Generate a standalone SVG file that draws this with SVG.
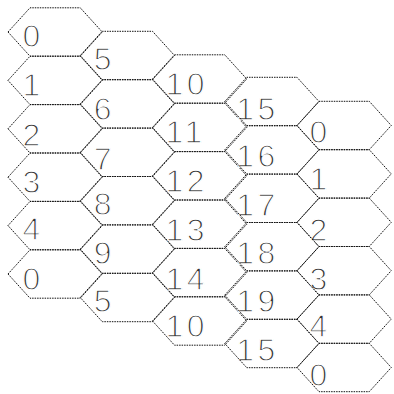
<svg xmlns="http://www.w3.org/2000/svg" xmlns:xlink="http://www.w3.org/1999/xlink" width="394" height="394" viewBox="0 0 394 394">
<style>
.hex{fill:none;stroke:#111;stroke-width:1;stroke-dasharray:1.5 1}
.lbl{font-family:"Liberation Sans",Arial,sans-serif;font-size:32px;fill:#333;stroke:#fff;stroke-width:1.3px;letter-spacing:3.5px}
</style>
<defs>
<polygon id="hx" class="hex" points="0,0 22,-24.2 72.25,-24.2 94.25,0 72.25,24.2 22,24.2"/>
</defs>
<rect width="394" height="394" fill="#fff"/>
<g id="c0r0"><text class="lbl" x="22.5" y="47">0</text><use xlink:href="#hx" x="8" y="32"/></g>
<g id="c0r1"><text class="lbl" x="22.5" y="96">1</text><use xlink:href="#hx" x="8" y="80.4"/></g>
<g id="c0r2"><text class="lbl" x="22.5" y="146">2</text><use xlink:href="#hx" x="8" y="128.8"/></g>
<g id="c0r3"><text class="lbl" x="22.5" y="193">3</text><use xlink:href="#hx" x="8" y="177.2"/></g>
<g id="c0r4"><text class="lbl" x="22.5" y="240">4</text><use xlink:href="#hx" x="8" y="225.6"/></g>
<g id="c0r5"><text class="lbl" x="22.5" y="290">0</text><use xlink:href="#hx" x="8" y="274"/></g>
<g id="c1r0"><text class="lbl" x="93.7" y="70">5</text><use xlink:href="#hx" x="80.25" y="55.5"/></g>
<g id="c1r1"><text class="lbl" x="93.7" y="120">6</text><use xlink:href="#hx" x="80.25" y="103.9"/></g>
<g id="c1r2"><text class="lbl" x="93.7" y="170">7</text><use xlink:href="#hx" x="80.25" y="152.3"/></g>
<g id="c1r3"><text class="lbl" x="93.7" y="215">8</text><use xlink:href="#hx" x="80.25" y="200.7"/></g>
<g id="c1r4"><text class="lbl" x="93.7" y="264">9</text><use xlink:href="#hx" x="80.25" y="249.1"/></g>
<g id="c1r5"><text class="lbl" x="93.7" y="312">5</text><use xlink:href="#hx" x="80.25" y="297.5"/></g>
<g id="c2r0"><text class="lbl" x="165.5" y="95">10</text><use xlink:href="#hx" x="152.5" y="79"/></g>
<g id="c2r1"><text class="lbl" x="165.5" y="143.4">11</text><use xlink:href="#hx" x="152.5" y="127.4"/></g>
<g id="c2r2"><text class="lbl" x="165.5" y="192">12</text><use xlink:href="#hx" x="152.5" y="175.8"/></g>
<g id="c2r3"><text class="lbl" x="165.5" y="241">13</text><use xlink:href="#hx" x="152.5" y="224.2"/></g>
<g id="c2r4"><text class="lbl" x="165.5" y="290">14</text><use xlink:href="#hx" x="152.5" y="272.6"/></g>
<g id="c2r5"><text class="lbl" x="165.5" y="337">10</text><use xlink:href="#hx" x="152.5" y="321"/></g>
<g id="c3r0"><text class="lbl" x="236.2" y="120">15</text><use xlink:href="#hx" x="224.75" y="101.5"/></g>
<g id="c3r1"><text class="lbl" x="236.2" y="167">16</text><use xlink:href="#hx" x="224.75" y="149.9"/></g>
<g id="c3r2"><text class="lbl" x="236.2" y="216">17</text><use xlink:href="#hx" x="224.75" y="198.3"/></g>
<g id="c3r3"><text class="lbl" x="236.2" y="264">18</text><use xlink:href="#hx" x="224.75" y="246.7"/></g>
<g id="c3r4"><text class="lbl" x="236.2" y="312">19</text><use xlink:href="#hx" x="224.75" y="295.1"/></g>
<g id="c3r5"><text class="lbl" x="236.2" y="361">15</text><use xlink:href="#hx" x="224.75" y="343.5"/></g>
<g id="c4r0"><text class="lbl" x="309.5" y="143">0</text><use xlink:href="#hx" x="297" y="125.5"/></g>
<g id="c4r1"><text class="lbl" x="309.5" y="190">1</text><use xlink:href="#hx" x="297" y="173.9"/></g>
<g id="c4r2"><text class="lbl" x="309.5" y="241">2</text><use xlink:href="#hx" x="297" y="222.3"/></g>
<g id="c4r3"><text class="lbl" x="309.5" y="290">3</text><use xlink:href="#hx" x="297" y="270.7"/></g>
<g id="c4r4"><text class="lbl" x="309.5" y="337">4</text><use xlink:href="#hx" x="297" y="319.1"/></g>
<g id="c4r5"><text class="lbl" x="309.5" y="386">0</text><use xlink:href="#hx" x="297" y="367.5"/></g>
</svg>
